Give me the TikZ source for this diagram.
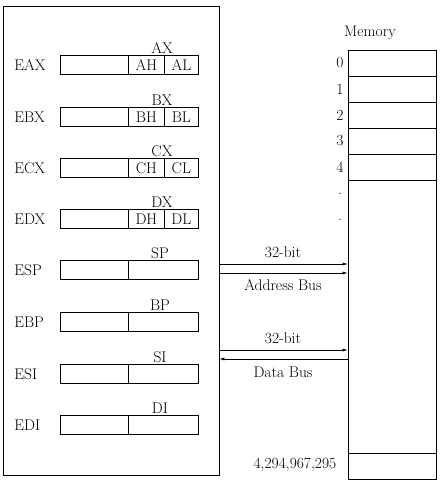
\documentclass[tikz,border=0pt]{standalone}
\usetikzlibrary{arrows.meta}
\begin{document}
\begin{tikzpicture}[x=1pt,y=-1pt,
  font=\fontsize{15.5}{18}\selectfont,
  line width=0.7pt,
  part/.style={draw, minimum height=19pt, inner sep=0pt, anchor=west},
  rlabel/.style={anchor=west, inner sep=0pt},
  cell/.style={draw, minimum width=88pt, minimum height=26pt, inner sep=0pt},
  bus/.style={-{Latex[length=5pt,width=3pt]}, line width=0.6pt}]
\useasboundingbox (0,0) rectangle (447,500);
% CPU box
\node[draw, minimum width=216pt, minimum height=469pt, inner sep=0pt] (cpu) at (111,240.5) {};
% 8/16-bit split registers
\foreach \n/\y/\x in {A/65/EAX, B/117/EBX, C/168/ECX, D/219/EDX}{
  \node[rlabel] (l\n) at (14,\y) {\x};
  \node[part, minimum width=68pt] (w\n) at (60,\y) {};
  \node[part, minimum width=36pt] (h\n) at (128,\y) {\n H};
  \node[part, minimum width=34pt] (b\n) at (164,\y) {\n L};
  \node (x\n) at (162,\y-17) {\n X};
}
% 16-bit registers
\foreach \n/\y/\x/\s in {P/270/ESP/SP, Q/322/EBP/BP, R/374/ESI/SI, S/425/EDI/DI}{
  \node[rlabel] (l\n) at (14,\y) {\x};
  \node[part, minimum width=68pt] (w\n) at (60,\y) {};
  \node[part, minimum width=70pt] (h\n) at (128,\y) {};
  \node (x\n) at (160,\y-17) {\s};
}
% Memory
\node (mtitle) at (370,33) {Memory};
\node[draw, minimum width=88pt, minimum height=429pt, inner sep=0pt] (mem) at (392,264.5) {};
\foreach \i/\y in {0/63,1/89,2/115,3/141,4/167}{
  \node[cell] (m\i) at (392,\y) {};
  \node (n\i) at (340,\y) {\i};
}
\node (d1) at (340,194) {.};
\node (d2) at (340,220) {.};
\node[cell] (mlast) at (392,466) {};
\node[anchor=east] (nlast) at (340,465) {4,294,967,295};
% Buses
\coordinate (a1s) at (cpu.east |- 0,264);
\coordinate (a1e) at (mem.west |- 0,264);
\coordinate (a2s) at (cpu.east |- 0,273);
\coordinate (a2e) at (mem.west |- 0,273);
\coordinate (d1s) at (cpu.east |- 0,350);
\coordinate (d1e) at (mem.west |- 0,350);
\coordinate (d2s) at (cpu.east |- 0,359);
\coordinate (d2e) at (mem.west |- 0,359);
\draw[bus] (a1s) -- (a1e);
\draw[bus] (a2s) -- (a2e);
\draw[bus] (d1s) -- (d1e);
\draw[bus] (d2e) -- (d2s);
\node (t1) at (283,252) {32-bit};
\node (t2) at (283,285) {Address Bus};
\node (t3) at (283,338) {32-bit};
\node (t4) at (283,372) {Data Bus};
\end{tikzpicture}
\end{document}
